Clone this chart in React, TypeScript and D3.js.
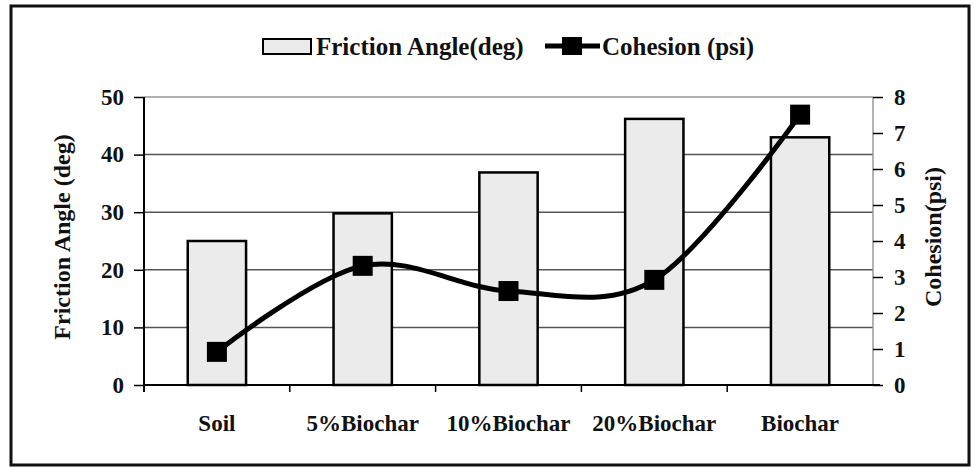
import React, { useRef, useEffect } from 'react';
import * as d3 from 'd3';

// categories and values
const categories = ['Soil', '5%Biochar', '10%Biochar', '20%Biochar', 'Biochar'];
const frictionAngle = [25, 29.8, 36.9, 46.2, 43];
const cohesion = [0.92, 3.31, 2.61, 2.92, 7.51];
const leftTicks = [0, 10, 20, 30, 40, 50];
const rightTicks = [0, 1, 2, 3, 4, 5, 6, 7, 8];

const W = 974;
const H = 467;
const FONT = '"Liberation Serif", "Times New Roman", serif';

const App = () => {
  const svgRef = useRef<SVGSVGElement>(null);

  useEffect(() => {
    const svg = d3.select(svgRef.current);
    svg.selectAll('*').remove();

    const margin = { top: 97, right: W - 873, bottom: H - 385, left: 144 };
    const width = W - margin.left - margin.right;
    const height = H - margin.top - margin.bottom;

    // outer frame
    svg.append('rect')
      .attr('x', 11).attr('y', 6)
      .attr('width', 958).attr('height', 459)
      .attr('fill', 'white')
      .attr('stroke', '#111')
      .attr('stroke-width', 3);

    const chart = svg.append('g')
      .attr('transform', `translate(${margin.left}, ${margin.top})`);

    const x = d3.scaleBand().domain(categories).range([0, width]).paddingInner(0).paddingOuter(0);
    const yL = d3.scaleLinear().domain([0, 50]).range([height, 0]);
    const yR = d3.scaleLinear().domain([0, 8]).range([height, 0]);

    // grid lines
    chart.selectAll('.grid')
      .data(leftTicks.filter(d => d > 0 && d < 50))
      .enter()
      .append('line')
      .attr('x1', 0).attr('x2', width)
      .attr('y1', d => yL(d)).attr('y2', d => yL(d))
      .attr('stroke', '#555')
      .attr('stroke-width', 1.5);

    // top and right frame of plot area
    chart.append('line')
      .attr('x1', 0).attr('x2', width)
      .attr('y1', yL(50)).attr('y2', yL(50))
      .attr('stroke', '#999').attr('stroke-width', 1.5);
    chart.append('line')
      .attr('x1', width).attr('x2', width)
      .attr('y1', 0).attr('y2', height)
      .attr('stroke', '#999').attr('stroke-width', 1.5);

    // bars
    const barW = x.bandwidth() * 0.4;
    chart.selectAll('.bar')
      .data(frictionAngle)
      .enter()
      .append('rect')
      .attr('x', (d, i) => (x(categories[i]) as number) + (x.bandwidth() - barW) / 2)
      .attr('y', d => yL(d))
      .attr('width', barW)
      .attr('height', d => height - yL(d))
      .attr('fill', '#ebebeb')
      .attr('stroke', '#000')
      .attr('stroke-width', 2.5);

    // left axis
    const axisL = chart.append('g')
      .call(d3.axisLeft(yL).tickValues(leftTicks).tickSize(10).tickPadding(10).tickFormat(d3.format('d')));
    axisL.select('.domain').attr('stroke', '#000').attr('stroke-width', 2).attr('d', `M0,0V${height + 7}`);

    // right axis
    const axisR = chart.append('g')
      .attr('transform', `translate(${width}, 0)`)
      .call(d3.axisRight(yR).tickValues(rightTicks).tickSize(10).tickPadding(11).tickFormat(d3.format('d')));
    axisR.select('.domain').remove();

    // bottom axis
    const axisB = chart.append('g')
      .attr('transform', `translate(0, ${height})`);
    axisB.append('line')
      .attr('x1', 0).attr('x2', width + 7)
      .attr('y1', 0).attr('y2', 0)
      .attr('stroke', '#000').attr('stroke-width', 2);
    axisB.selectAll('.xtick')
      .data(categories.slice(1))
      .enter()
      .append('line')
      .attr('x1', d => x(d) as number).attr('x2', d => x(d) as number)
      .attr('y1', 0).attr('y2', 7)
      .attr('stroke', '#000').attr('stroke-width', 1.5);
    axisB.selectAll('.xlabel')
      .data(categories)
      .enter()
      .append('text')
      .attr('x', d => (x(d) as number) + x.bandwidth() / 2)
      .attr('y', 46)
      .attr('text-anchor', 'middle')
      .attr('font-family', FONT)
      .attr('font-weight', 'bold')
      .attr('font-size', 23)
      .attr('fill', '#111')
      .text(d => d);

    chart.selectAll('.tick line').attr('stroke', '#000').attr('stroke-width', 1.5);
    chart.selectAll('.tick text')
      .attr('font-family', FONT)
      .attr('font-weight', 'bold')
      .attr('font-size', 23)
      .attr('fill', '#111');

    // cohesion line
    const line = d3.line<number>()
      .x((d, i) => (x(categories[i]) as number) + x.bandwidth() / 2)
      .y(d => yR(d))
      .curve(d3.curveCardinal.tension(0));

    chart.append('path')
      .datum(cohesion)
      .attr('fill', 'none')
      .attr('stroke', '#000')
      .attr('stroke-width', 5)
      .attr('d', line);

    chart.selectAll('.marker')
      .data(cohesion)
      .enter()
      .append('rect')
      .attr('x', (d, i) => (x(categories[i]) as number) + x.bandwidth() / 2 - 10)
      .attr('y', d => yR(d) - 10)
      .attr('width', 20)
      .attr('height', 20)
      .attr('fill', '#000');

    // axis titles
    svg.append('text')
      .attr('transform', `translate(70, ${margin.top + height / 2 - 4}) rotate(-90)`)
      .attr('text-anchor', 'middle')
      .attr('font-family', FONT)
      .attr('font-weight', 'bold')
      .attr('font-size', 24)
      .attr('fill', '#111')
      .text('Friction Angle (deg)');

    svg.append('text')
      .attr('transform', `translate(941, ${margin.top + height / 2 - 4}) rotate(-90)`)
      .attr('text-anchor', 'middle')
      .attr('font-family', FONT)
      .attr('font-weight', 'bold')
      .attr('font-size', 24)
      .attr('fill', '#111')
      .text('Cohesion(psi)');

    // legend
    const legend = svg.append('g');
    legend.append('rect')
      .attr('x', 263).attr('y', 39)
      .attr('width', 48).attr('height', 15)
      .attr('fill', '#ebebeb')
      .attr('stroke', '#000')
      .attr('stroke-width', 2);
    legend.append('text')
      .attr('x', 316).attr('y', 55)
      .attr('font-family', FONT)
      .attr('font-weight', 'bold')
      .attr('font-size', 25)
      .attr('fill', '#111')
      .text('Friction Angle(deg)');
    legend.append('line')
      .attr('x1', 545).attr('x2', 600)
      .attr('y1', 46).attr('y2', 46)
      .attr('stroke', '#000')
      .attr('stroke-width', 5);
    legend.append('rect')
      .attr('x', 562).attr('y', 37)
      .attr('width', 20).attr('height', 18)
      .attr('fill', '#000');
    legend.append('text')
      .attr('x', 602).attr('y', 55)
      .attr('font-family', FONT)
      .attr('font-weight', 'bold')
      .attr('font-size', 25)
      .attr('fill', '#111')
      .text('Cohesion (psi)');
  }, []);

  return (
    <svg ref={svgRef} width={W} height={H}
      style={{ position: 'absolute', left: 0, top: 0, background: 'white' }} />
  );
};

export default App;
